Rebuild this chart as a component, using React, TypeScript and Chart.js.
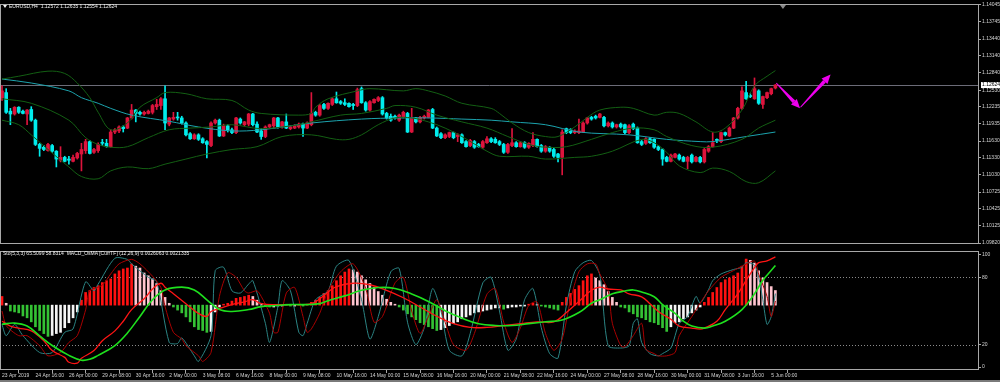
import React, { useEffect, useRef } from 'react';
import { Chart, registerables } from 'chart.js';

Chart.register(...registerables);

// ---------------- EURUSD H4 candles (bar index 0 = 23 Apr 2019 08:00) ----------------
const openP = [
  1.1240, 1.1249, 1.1216, 1.1211, 1.1223, 1.1216, 1.1211, 1.1219, 1.1200, 1.1157,
  1.1152, 1.1146, 1.1155, 1.1145, 1.1129, 1.1134, 1.1131, 1.1127, 1.1133, 1.1140,
  1.1146, 1.1162, 1.1143, 1.1146, 1.1160, 1.1159, 1.1153, 1.1179, 1.1181, 1.1188,
  1.1186, 1.1204, 1.1218, 1.1214, 1.1211, 1.1212, 1.1214, 1.1224, 1.1226, 1.1238,
  1.1193, 1.1202, 1.1205, 1.1204, 1.1195, 1.1176, 1.1167, 1.1174, 1.1167, 1.1162,
  1.1155, 1.1195, 1.1200, 1.1172, 1.1190, 1.1183, 1.1178, 1.1202, 1.1192, 1.1193,
  1.1211, 1.1193, 1.1181, 1.1171, 1.1188, 1.1190, 1.1204, 1.1188, 1.1197, 1.1185,
  1.1186, 1.1188, 1.1193, 1.1186, 1.1192, 1.1214, 1.1209, 1.1228, 1.1221, 1.1228,
  1.1238, 1.1233, 1.1231, 1.1230, 1.1228, 1.1226, 1.1256, 1.1231, 1.1218, 1.1231,
  1.1235, 1.1240, 1.1212, 1.1207, 1.1207, 1.1200, 1.1205, 1.1212, 1.1179, 1.1204,
  1.1197, 1.1204, 1.1205, 1.1219, 1.1186, 1.1176, 1.1169, 1.1171, 1.1178, 1.1171,
  1.1174, 1.1162, 1.1155, 1.1162, 1.1157, 1.1152, 1.1160, 1.1167, 1.1166, 1.1162,
  1.1157, 1.1143, 1.1155, 1.1160, 1.1153, 1.1160, 1.1152, 1.1155, 1.1166, 1.1155,
  1.1145, 1.1152, 1.1148, 1.1140, 1.1134, 1.1185, 1.1183, 1.1178, 1.1178, 1.1179,
  1.1195, 1.1205, 1.1207, 1.1205, 1.1205, 1.1190, 1.1195, 1.1188, 1.1193, 1.1192,
  1.1178, 1.1193, 1.1186, 1.1162, 1.1159, 1.1167, 1.1166, 1.1153, 1.1148, 1.1134,
  1.1127, 1.1134, 1.1138, 1.1134, 1.1127, 1.1138, 1.1127, 1.1134, 1.1126, 1.1145,
  1.1153, 1.1166, 1.1162, 1.1178, 1.1172, 1.1186, 1.1204, 1.1221, 1.1249, 1.1243,
  1.1238, 1.1252, 1.1228, 1.1240, 1.1247, 1.12572,
];
const highP = [
  1.1261, 1.1256, 1.1221, 1.1224, 1.1224, 1.1218, 1.1219, 1.1224, 1.1202, 1.1159,
  1.1155, 1.1159, 1.1157, 1.1146, 1.1153, 1.1136, 1.1136, 1.1138, 1.1143, 1.1159,
  1.1166, 1.1164, 1.1150, 1.1160, 1.1166, 1.1166, 1.1183, 1.1185, 1.1190, 1.1190,
  1.1205, 1.1228, 1.1219, 1.1216, 1.1216, 1.1218, 1.1228, 1.1237, 1.1240, 1.1261,
  1.1205, 1.1214, 1.1214, 1.1207, 1.1197, 1.1178, 1.1176, 1.1176, 1.1169, 1.1164,
  1.1197, 1.1202, 1.1202, 1.1193, 1.1192, 1.1186, 1.1205, 1.1204, 1.1198, 1.1212,
  1.1212, 1.1197, 1.1185, 1.1190, 1.1193, 1.1205, 1.1205, 1.1198, 1.1211, 1.1190,
  1.1192, 1.1195, 1.1195, 1.1197, 1.1249, 1.1216, 1.1228, 1.1230, 1.1231, 1.1240,
  1.1250, 1.1235, 1.1238, 1.1231, 1.1230, 1.1257, 1.1259, 1.1233, 1.1235, 1.1238,
  1.1242, 1.1242, 1.1214, 1.1211, 1.1209, 1.1211, 1.1216, 1.1214, 1.1221, 1.1205,
  1.1207, 1.1209, 1.1219, 1.1221, 1.1188, 1.1178, 1.1176, 1.1179, 1.1179, 1.1176,
  1.1176, 1.1164, 1.1166, 1.1164, 1.1159, 1.1164, 1.1171, 1.1169, 1.1169, 1.1164,
  1.1159, 1.1159, 1.1185, 1.1162, 1.1162, 1.1162, 1.1160, 1.1178, 1.1167, 1.1157,
  1.1155, 1.1153, 1.1150, 1.1141, 1.1183, 1.1186, 1.1185, 1.1183, 1.1202, 1.1197,
  1.1205, 1.1207, 1.1209, 1.1212, 1.1207, 1.1197, 1.1197, 1.1193, 1.1195, 1.1193,
  1.1192, 1.1195, 1.1188, 1.1164, 1.1169, 1.1169, 1.1167, 1.1155, 1.1150, 1.1136,
  1.1140, 1.1141, 1.1140, 1.1136, 1.1136, 1.1140, 1.1136, 1.1136, 1.1150, 1.1155,
  1.1178, 1.1167, 1.1179, 1.1179, 1.1188, 1.1205, 1.1223, 1.1259, 1.1269, 1.1247,
  1.1275, 1.1254, 1.1243, 1.1250, 1.1257, 1.12635,
];
const lowP = [
  1.1235, 1.1212, 1.1192, 1.1209, 1.1212, 1.1211, 1.1192, 1.1198, 1.1155, 1.1136,
  1.1146, 1.1145, 1.1143, 1.1117, 1.1126, 1.1126, 1.1122, 1.1126, 1.1131, 1.1110,
  1.1141, 1.1140, 1.1141, 1.1143, 1.1155, 1.1152, 1.1152, 1.1176, 1.1178, 1.1179,
  1.1185, 1.1202, 1.1197, 1.1209, 1.1209, 1.1211, 1.1211, 1.1219, 1.1219, 1.1183,
  1.1190, 1.1200, 1.1200, 1.1193, 1.1172, 1.1166, 1.1166, 1.1164, 1.1159, 1.1133,
  1.1153, 1.1193, 1.1171, 1.1171, 1.1179, 1.1176, 1.1176, 1.1193, 1.1190, 1.1190,
  1.1190, 1.1178, 1.1166, 1.1169, 1.1186, 1.1186, 1.1186, 1.1186, 1.1185, 1.1183,
  1.1185, 1.1186, 1.1171, 1.1185, 1.1190, 1.1207, 1.1207, 1.1219, 1.1219, 1.1226,
  1.1230, 1.1228, 1.1226, 1.1223, 1.1219, 1.1224, 1.1230, 1.1216, 1.1216, 1.1230,
  1.1233, 1.1209, 1.1202, 1.1198, 1.1202, 1.1198, 1.1204, 1.1178, 1.1178, 1.1195,
  1.1195, 1.1202, 1.1204, 1.1185, 1.1171, 1.1167, 1.1167, 1.1169, 1.1167, 1.1162,
  1.1159, 1.1152, 1.1153, 1.1150, 1.1152, 1.1150, 1.1159, 1.1160, 1.1159, 1.1155,
  1.1141, 1.1141, 1.1153, 1.1152, 1.1152, 1.1150, 1.1150, 1.1153, 1.1152, 1.1143,
  1.1143, 1.1143, 1.1134, 1.1126, 1.1103, 1.1176, 1.1176, 1.1176, 1.1176, 1.1178,
  1.1193, 1.1200, 1.1202, 1.1204, 1.1188, 1.1188, 1.1186, 1.1186, 1.1186, 1.1176,
  1.1176, 1.1183, 1.1159, 1.1155, 1.1157, 1.1159, 1.1150, 1.1146, 1.1120, 1.1126,
  1.1126, 1.1133, 1.1129, 1.1126, 1.1114, 1.1124, 1.1126, 1.1124, 1.1124, 1.1143,
  1.1152, 1.1160, 1.1160, 1.1172, 1.1171, 1.1185, 1.1202, 1.1219, 1.1237, 1.1240,
  1.1237, 1.1228, 1.1221, 1.1238, 1.1245, 1.12554,
];
const closeP = [
  1.1252, 1.1214, 1.1211, 1.1223, 1.1214, 1.1212, 1.1218, 1.1200, 1.1157, 1.1150,
  1.1148, 1.1157, 1.1145, 1.1131, 1.1134, 1.1127, 1.1129, 1.1134, 1.1141, 1.1148,
  1.1162, 1.1141, 1.1148, 1.1157, 1.1159, 1.1153, 1.1179, 1.1183, 1.1188, 1.1185,
  1.1204, 1.1218, 1.1212, 1.1211, 1.1214, 1.1216, 1.1226, 1.1228, 1.1238, 1.1195,
  1.1204, 1.1205, 1.1204, 1.1195, 1.1174, 1.1167, 1.1174, 1.1166, 1.1160, 1.1157,
  1.1195, 1.1200, 1.1172, 1.1190, 1.1183, 1.1178, 1.1204, 1.1195, 1.1197, 1.1211,
  1.1192, 1.1179, 1.1171, 1.1188, 1.1192, 1.1204, 1.1188, 1.1197, 1.1186, 1.1188,
  1.1190, 1.1193, 1.1186, 1.1195, 1.1212, 1.1209, 1.1226, 1.1221, 1.1230, 1.1238,
  1.1231, 1.1230, 1.1228, 1.1224, 1.1226, 1.1254, 1.1231, 1.1218, 1.1233, 1.1237,
  1.1240, 1.1211, 1.1204, 1.1200, 1.1204, 1.1209, 1.1214, 1.1179, 1.1204, 1.1197,
  1.1205, 1.1207, 1.1218, 1.1186, 1.1172, 1.1169, 1.1174, 1.1178, 1.1169, 1.1174,
  1.1160, 1.1153, 1.1164, 1.1152, 1.1153, 1.1162, 1.1167, 1.1162, 1.1160, 1.1157,
  1.1143, 1.1157, 1.1160, 1.1153, 1.1160, 1.1152, 1.1159, 1.1166, 1.1153, 1.1145,
  1.1153, 1.1145, 1.1136, 1.1134, 1.1179, 1.1178, 1.1178, 1.1181, 1.1181, 1.1195,
  1.1204, 1.1202, 1.1204, 1.1211, 1.1190, 1.1195, 1.1188, 1.1192, 1.1188, 1.1178,
  1.1190, 1.1185, 1.1160, 1.1157, 1.1167, 1.1160, 1.1152, 1.1148, 1.1131, 1.1127,
  1.1138, 1.1140, 1.1131, 1.1127, 1.1134, 1.1126, 1.1134, 1.1126, 1.1148, 1.1153,
  1.1160, 1.1164, 1.1178, 1.1174, 1.1186, 1.1204, 1.1221, 1.1252, 1.1238, 1.1242,
  1.1256, 1.1230, 1.1242, 1.1249, 1.1256, 1.12624,
];

// ---------------- overlays: [bar index, price] ----------------
const maLine = [
  [0, 1.1273], [7, 1.1266], [16, 1.1252], [19, 1.1240], [23, 1.1230], [26, 1.1221], [31, 1.1209],
  [40, 1.1198], [47, 1.1188], [55, 1.1181], [62, 1.1183], [74, 1.1195], [86, 1.1202], [95, 1.1204],
  [102, 1.1204], [110, 1.1202], [117, 1.1200], [122, 1.1197], [130, 1.1192], [138, 1.1179],
  [150, 1.1174], [159, 1.1166], [167, 1.1162], [170, 1.1162], [178, 1.1171], [185, 1.1179],
];
const bbUpper = [
  [0, 1.1273], [4, 1.1278], [11, 1.1287], [15, 1.1283], [18, 1.1266], [21, 1.1240], [23, 1.1214],
  [26, 1.1183], [30, 1.1195], [33, 1.1223], [37, 1.1240], [39, 1.1249], [44, 1.1247], [49, 1.1238],
  [55, 1.1235], [59, 1.1218], [62, 1.1212], [71, 1.1209], [74, 1.1212], [75, 1.1223], [78, 1.1238],
  [85, 1.1252], [88, 1.1256], [96, 1.1252], [99, 1.1256], [102, 1.1252], [106, 1.1243], [110, 1.1230],
  [117, 1.1221], [119, 1.1212], [122, 1.1195], [126, 1.1178], [130, 1.1171], [133, 1.1171],
  [137, 1.1188], [140, 1.1205], [143, 1.1218], [148, 1.1223], [151, 1.1221], [156, 1.1209],
  [159, 1.1214], [162, 1.1212], [166, 1.1197], [170, 1.1179], [173, 1.1186], [177, 1.1218],
  [180, 1.1261], [183, 1.1278], [185, 1.1288],
];
const bbMiddle = [
  [0, 1.1238], [7, 1.1230], [16, 1.1200], [20, 1.1169], [23, 1.1157], [26, 1.1152], [30, 1.1153],
  [35, 1.1169], [40, 1.1183], [45, 1.1186], [50, 1.1188], [55, 1.1192], [62, 1.1185], [71, 1.1192],
  [74, 1.1197], [81, 1.1209], [86, 1.1212], [92, 1.1221], [94, 1.1226], [99, 1.1223], [104, 1.1209],
  [110, 1.1197], [116, 1.1186], [121, 1.1171], [126, 1.1157], [130, 1.1152], [135, 1.1153],
  [141, 1.1166], [146, 1.1178], [151, 1.1186], [156, 1.1183], [159, 1.1171], [165, 1.1155],
  [170, 1.1152], [177, 1.1166], [181, 1.1186], [185, 1.1200],
];
const bbLower = [
  [0, 1.1200], [4, 1.1192], [7, 1.1174], [11, 1.1148], [16, 1.1117], [19, 1.1100], [23, 1.1096],
  [26, 1.1110], [30, 1.1117], [35, 1.1114], [39, 1.1122], [44, 1.1131], [49, 1.1140], [55, 1.1148],
  [61, 1.1153], [67, 1.1171], [74, 1.1174], [80, 1.1166], [83, 1.1166], [86, 1.1174], [90, 1.1192],
  [94, 1.1204], [98, 1.1204], [102, 1.1197], [106, 1.1186], [110, 1.1171], [116, 1.1145],
  [119, 1.1136], [126, 1.1136], [130, 1.1131], [137, 1.1134], [141, 1.1136], [146, 1.1145],
  [153, 1.1166], [156, 1.1160], [159, 1.1143], [162, 1.1119], [167, 1.1107], [170, 1.1115],
  [174, 1.1109], [178, 1.1091], [181, 1.1089], [185, 1.1110],
];

const priceTicks = [1.14045, 1.13745, 1.1344, 1.1314, 1.1284, 1.1253, 1.12235, 1.11935, 1.1163, 1.1133, 1.1103, 1.10725, 1.10425, 1.10125, 1.0982];
const lastPrice = 1.12624;

// hand-drawn arrows, anchored in [bar index, price]
const arrowLegs = [
  [[185.2, 1.1266], [190.9, 1.1221]],
  [[191.0, 1.1223], [198.2, 1.1281]],
];

// ---------------- time axis ----------------
const timeLabels = [
  '23 Apr 2019', '24 Apr 16:00', '26 Apr 00:00', '29 Apr 08:00', '30 Apr 16:00', '2 May 00:00',
  '3 May 08:00', '6 May 16:00', '8 May 00:00', '9 May 08:00', '10 May 16:00', '14 May 00:00',
  '15 May 08:00', '16 May 16:00', '20 May 00:00', '21 May 08:00', '22 May 16:00', '24 May 00:00',
  '27 May 08:00', '28 May 16:00', '30 May 00:00', '31 May 08:00', '3 Jun 16:00', '5 Jun 00:00',
];
const labelStep = 8;

// ---------------- lower panel: Stochastic(5,3,3) + MACD OsMA(12,26,9) ----------------
const stochMain = [
  [0, 38], [1, 28], [3, 38], [5, 28], [9, 13], [12, 13], [15, 31], [17, 34], [20, 76], [22, 68],
  [23, 74], [27, 97], [30, 96], [31, 92], [35, 80], [37, 76], [40, 22], [42, 21], [43, 26], [46, 10],
  [47, 5], [50, 28], [51, 86], [53, 89], [55, 68], [57, 66], [59, 74], [60, 77], [63, 39], [64, 22],
  [66, 54], [67, 77], [69, 68], [71, 31], [72, 28], [73, 39], [75, 60], [78, 68],
  [80, 90], [83, 95], [86, 60], [88, 25], [90, 45], [93, 85], [95, 88], [97, 40], [99, 20], [101, 35],
  [103, 70], [105, 50], [107, 15], [110, 10], [112, 30], [115, 75], [117, 80], [119, 50], [121, 15],
  [123, 25], [125, 60], [127, 70], [129, 35], [131, 12], [133, 8], [135, 55], [137, 85], [139, 93],
  [141, 95], [143, 82], [145, 19], [148, 17], [150, 19], [151, 39], [152, 43], [153, 22], [155, 12],
  [157, 10], [158, 12], [160, 17], [162, 39], [164, 45], [166, 63], [167, 57], [169, 69], [170, 77],
  [172, 83], [175, 87], [177, 89], [178, 93], [180, 91], [181, 80], [182, 60], [183, 38], [184, 45],
  [185, 65.5099],
];
const stochSignal = [
  [0, 50], [1, 37], [4, 28], [6, 28], [9, 19], [11, 10], [14, 13], [16, 22], [18, 28], [20, 51],
  [21, 68], [24, 73], [26, 83], [28, 92], [31, 96], [33, 92], [36, 81], [38, 71], [39, 54], [41, 31],
  [43, 25], [44, 19], [47, 10], [48, 5], [50, 13], [52, 63], [54, 84], [56, 80], [58, 68], [59, 66],
  [61, 68], [62, 63], [64, 48], [65, 31], [66, 31], [68, 66], [70, 71], [72, 45], [73, 31], [74, 34],
  [76, 48], [78, 68], [81, 85], [84, 92], [87, 70], [89, 40], [91, 45], [94, 75], [96, 80], [98, 50],
  [100, 30], [102, 45], [104, 60], [106, 40], [108, 20], [111, 15], [113, 30], [116, 65], [118, 70],
  [120, 40], [122, 22], [124, 35], [126, 55], [128, 58], [130, 30], [132, 15], [134, 25], [136, 60],
  [138, 85], [140, 92], [142, 92], [143, 83], [145, 68], [146, 39], [148, 19], [149, 18], [151, 28],
  [153, 39], [154, 16], [156, 12], [157, 10], [159, 10], [161, 13], [162, 28], [165, 45], [167, 57],
  [169, 68], [172, 80], [175, 86], [177, 90], [180, 94.5], [181, 83], [183, 63], [184, 45], [185, 58.8314],
];
const macdMain = [
  [0, -0.00087], [2, -0.00113], [4, -0.00124], [7, -0.00139], [10, -0.00192], [12, -0.00245],
  [15, -0.00282], [16, -0.00308], [18, -0.00313], [19, -0.00287], [22, -0.00245], [24, -0.00192],
  [27, -0.00139], [29, -0.00087], [31, -0.00024], [34, 0.00034], [36, 0.00087], [38, 0.00118],
  [39, 0.00097], [41, 0.00061], [44, 0.00008], [47, -0.00045], [49, -0.00061], [50, -0.00034],
  [52, -0.00018], [55, 0.00003], [58, 0.00018], [60, 0.00029], [62, 0.00008], [66, 0.00003],
  [71, 0.00003], [74, 0.00008], [76, 0.00034], [78, 0.00071], [80, 0.001], [84, 0.00118],
  [88, 0.0011], [92, 0.0008], [96, 0.0004], [100, -0.0001], [104, -0.0006], [108, -0.001],
  [112, -0.0012], [116, -0.0012], [120, -0.0011], [124, -0.001], [128, -0.0009], [132, -0.0009],
  [135, -0.0004], [138, 0.0002], [141, 0.0008], [143, 0.00097], [145, 0.00087], [148, 0.00082],
  [150, 0.00061], [153, 0.00045], [155, 0.00008], [157, -0.00034], [160, -0.00076], [162, -0.00113],
  [165, -0.00124], [167, -0.00129], [168, -0.00124], [171, -0.00087], [173, -0.00024], [176, 0.00061],
  [178, 0.00134], [180, 0.00203], [181, 0.00229], [183, 0.00239], [185, 0.0026063],
];
const macdSignal = [
  [0, -0.00103], [3, -0.00097], [6, -0.00113], [9, -0.00166], [12, -0.00218], [16, -0.00271],
  [19, -0.00297], [21, -0.00292], [23, -0.00271], [27, -0.00218], [30, -0.0015], [33, -0.00061],
  [36, 0.00029], [39, 0.00082], [43, 0.00097], [46, 0.00082], [49, 0.00029], [52, -0.00024],
  [55, -0.00034], [59, -0.00024], [62, -0.00008], [65, -0.00003], [69, 0.00003], [73, 0.00003],
  [76, 0.00008], [78, 0.00024], [82, 0.0005], [86, 0.0008], [90, 0.00095], [94, 0.0009],
  [98, 0.0006], [102, 0.0002], [106, -0.0003], [110, -0.0007], [114, -0.001], [118, -0.0011],
  [122, -0.0011], [126, -0.001], [130, -0.0009], [134, -0.0008], [138, -0.0004], [141, 0.0001],
  [143, 0.00029], [146, 0.00061], [149, 0.00076], [151, 0.00082], [153, 0.00071], [156, 0.00045],
  [158, 0.00003], [161, -0.00045], [163, -0.00087], [165, -0.00113], [168, -0.00124], [170, -0.00113],
  [173, -0.00087], [177, -0.00024], [180, 0.00061], [182, 0.00134], [185, 0.0021335],
];
const osma = [
  0.00028, 0.00006, -0.00019, -0.00022, -0.00025, -0.00035, -0.00041, -0.00054, -0.0007, -0.00082,
  -0.00092, -0.00101, -0.00098, -0.00092, -0.00088, -0.00073, -0.00057, -0.00041, -0.00022, 0.00016,
  0.00041, 0.00047, 0.00057, 0.00063, 0.00073, 0.00079, 0.00085, 0.00101, 0.00111, 0.00117,
  0.0012, 0.00133, 0.00126, 0.0012, 0.00104, 0.00095, 0.00085, 0.0007, 0.00047, 0.00025,
  0.00006, -0.00006, -0.00016, -0.00025, -0.00038, -0.00054, -0.0007, -0.00079, -0.00082, -0.00088,
  -0.00085, -0.00022, -0.00006, 0.00003, 0.00006, 0.00013, 0.00022, 0.00025, 0.00028, 0.00032,
  0.00028, 0.00016, 0.00006, -0.00003, -0.00006, -0.00006, -0.00003, -0.00003, 0.00003, -0.00003,
  -0.00003, 0.00003, -0.00003, 0.00003, 0.00009, 0.00016, 0.00025, 0.00038, 0.00047, 0.00063,
  0.00079, 0.00095, 0.00107, 0.00117, 0.00114, 0.00107, 0.00095, 0.00082, 0.0007, 0.00057,
  0.00044, 0.00032, 0.00019, 0.00009, 0.00003, -0.00006, -0.00016, -0.00028, -0.00038, -0.00047,
  -0.00057, -0.00063, -0.0007, -0.00076, -0.00082, -0.00079, -0.00073, -0.00066, -0.0006, -0.00054,
  -0.00044, -0.00038, -0.00032, -0.00025, -0.00022, -0.00019, -0.00016, -0.00013, -0.00009, -0.00009,
  -0.00013, -0.00009, -0.00006, -0.00006, -0.00003, -0.00003, 0.00003, 0.00006, 0.00003, -0.00003,
  -0.00006, -0.00009, -0.00013, -0.00016, 0.00009, 0.00025, 0.00038, 0.00051, 0.00063, 0.00079,
  0.00095, 0.00101, 0.00088, 0.00079, 0.00066, 0.00044, 0.00025, 0.00009, -0.00006, -0.00009,
  -0.00022, -0.00028, -0.00038, -0.00041, -0.00047, -0.00054, -0.00057, -0.00063, -0.00073, -0.00085,
  -0.0007, -0.00057, -0.00054, -0.00044, -0.00038, -0.00025, -0.00016, -0.00006, 0.00009, 0.00025,
  0.00041, 0.00057, 0.00073, 0.00082, 0.00088, 0.00095, 0.00104, 0.00126, 0.00149, 0.00145,
  0.00136, 0.00111, 0.00088, 0.00073, 0.0006, 0.0004728,
];
const stochLevels = [20, 80];
const stochTicks = [100, 80, 20, 0];

// ---------------- look ----------------
const X_MIN = -0.48;
const X_MAX = 233.7;
const AXIS_W = 21;
const FONT = { family: 'Liberation Sans', size: 5 };
const TEXT = '#d4d4d4';
const FRAME = '#a8a8a8';
const BULL = '#dc143c';
const BEAR = '#00ecec';

const pts = (arr) => arr.map(([x, y]) => ({ x, y }));

const framePlugin = {
  id: 'frame',
  afterDraw(chart) {
    const { ctx, chartArea: a } = chart;
    ctx.save();
    ctx.strokeStyle = FRAME;
    ctx.lineWidth = 1;
    ctx.strokeRect(a.left + 0.5, a.top + 0.5, a.right - a.left - 1, a.bottom - a.top - 1);
    ctx.restore();
  },
};

const priceLinePlugin = {
  id: 'priceLine',
  beforeDatasetsDraw(chart) {
    const { ctx, chartArea: a, scales } = chart;
    const y = Math.round(scales.y.getPixelForValue(lastPrice)) + 0.5;
    ctx.save();
    ctx.strokeStyle = '#6c6c78';
    ctx.lineWidth = 1;
    ctx.beginPath();
    ctx.moveTo(a.left, y);
    ctx.lineTo(a.right, y);
    ctx.stroke();
    // chart-shift marker
    const sx = scales.x.getPixelForValue(closeP.length + 0.8);
    ctx.fillStyle = '#8a8a8a';
    ctx.beginPath();
    ctx.moveTo(sx - 3, a.top + 1);
    ctx.lineTo(sx + 3, a.top + 1);
    ctx.lineTo(sx, a.top + 5);
    ctx.closePath();
    ctx.fill();
    ctx.restore();
  },
};

const arrowPlugin = {
  id: 'arrows',
  afterDatasetsDraw(chart) {
    const { ctx, scales } = chart;
    ctx.save();
    ctx.fillStyle = '#ee00ee';
    arrowLegs.forEach(([from, to]) => {
      const x1 = scales.x.getPixelForValue(from[0]);
      const y1 = scales.y.getPixelForValue(from[1]);
      const x2 = scales.x.getPixelForValue(to[0]);
      const y2 = scales.y.getPixelForValue(to[1]);
      const ang = Math.atan2(y2 - y1, x2 - x1);
      const nx = -Math.sin(ang);
      const ny = Math.cos(ang);
      const head = 9;
      const hw = 4;
      const bx = x2 - head * Math.cos(ang);
      const by = y2 - head * Math.sin(ang);
      // tapered shaft
      ctx.beginPath();
      ctx.moveTo(x1 + nx * 0.5, y1 + ny * 0.5);
      ctx.lineTo(bx + nx * 1.8, by + ny * 1.8);
      ctx.lineTo(bx - nx * 1.8, by - ny * 1.8);
      ctx.lineTo(x1 - nx * 0.5, y1 - ny * 0.5);
      ctx.closePath();
      ctx.fill();
      // head
      ctx.beginPath();
      ctx.moveTo(x2, y2);
      ctx.lineTo(bx + nx * hw, by + ny * hw);
      ctx.lineTo(bx - nx * hw, by - ny * hw);
      ctx.closePath();
      ctx.fill();
    });
    ctx.restore();
  },
};

const levelPlugin = {
  id: 'levels',
  beforeDatasetsDraw(chart) {
    const { ctx, chartArea: a, scales } = chart;
    ctx.save();
    ctx.strokeStyle = '#8a8a8a';
    ctx.lineWidth = 1;
    ctx.setLineDash([1, 2]);
    stochLevels.forEach((lv) => {
      const y = Math.round(scales.yStoch.getPixelForValue(lv)) + 0.5;
      ctx.beginPath();
      ctx.moveTo(a.left, y);
      ctx.lineTo(a.right, y);
      ctx.stroke();
    });
    ctx.restore();
  },
};

function lineDs(data, color, width, axis, tension, order) {
  return {
    type: 'line',
    data: pts(data),
    borderColor: color,
    borderWidth: width,
    pointRadius: 0,
    tension,
    fill: false,
    yAxisID: axis,
    order,
  };
}

function topConfig() {
  const bodyColors = closeP.map((c, i) => (c >= openP[i] ? BULL : BEAR));
  return {
    type: 'bar',
    data: {
      datasets: [
        lineDs(bbUpper, '#135f13', 1, 'y', 0.35, 0),
        lineDs(bbMiddle, '#135f13', 1, 'y', 0.35, 0),
        lineDs(bbLower, '#135f13', 1, 'y', 0.35, 0),
        lineDs(maLine, '#1ca3ad', 1, 'y', 0.35, 0),
        {
          type: 'bar',
          data: openP.map((o, i) => ({ x: i, y: [o, closeP[i]] })),
          backgroundColor: bodyColors,
          barThickness: 3,
          minBarLength: 1,
          grouped: false,
          borderWidth: 0,
          yAxisID: 'y',
          order: 1,
        },
        {
          type: 'bar',
          data: lowP.map((l, i) => ({ x: i, y: [l, highP[i]] })),
          backgroundColor: bodyColors,
          barThickness: 1,
          grouped: false,
          borderWidth: 0,
          yAxisID: 'y',
          order: 2,
        },
      ],
    },
    options: {
      responsive: false,
      animation: false,
      devicePixelRatio: 1,
      events: [],
      layout: { padding: { top: 1, bottom: 1, left: 0, right: 0 } },
      plugins: { legend: { display: false }, tooltip: { enabled: false } },
      scales: {
        x: { type: 'linear', min: X_MIN, max: X_MAX, display: false, offset: false },
        y: {
          type: 'linear',
          position: 'right',
          min: 1.098027,
          max: 1.140623,
          afterFit: (s) => { s.width = AXIS_W; },
          afterBuildTicks: (s) => { s.ticks = [...priceTicks, lastPrice].map((v) => ({ value: v })); },
          border: { display: false },
          grid: {
            drawOnChartArea: false,
            tickLength: 2,
            color: (c) => (c.tick && c.tick.value === lastPrice ? 'rgba(0,0,0,0)' : FRAME),
          },
          ticks: {
            autoSkip: false,
            padding: 1,
            font: FONT,
            color: (c) => (c.tick && c.tick.value === lastPrice ? '#000' : TEXT),
            showLabelBackdrop: (c) => !!(c.tick && c.tick.value === lastPrice),
            backdropColor: '#ffffff',
            backdropPadding: { top: 0, bottom: 0, left: 1, right: 2 },
            callback: (v) => Number(v).toFixed(5),
          },
        },
      },
    },
    plugins: [priceLinePlugin, arrowPlugin, framePlugin],
  };
}

function bottomConfig() {
  const histColors = osma.map((v, i) => {
    const prev = i > 0 ? osma[i - 1] : v;
    if (v >= 0) return v >= prev ? '#ff1010' : '#ffc4cf';
    return v < prev ? '#34c234' : '#f4f4f4';
  });
  return {
    type: 'bar',
    data: {
      datasets: [
        lineDs(macdSignal, '#1ee01e', 1.6, 'yMacd', 0.4, 0),
        lineDs(macdMain, '#ff1414', 1.3, 'yMacd', 0.4, 0),
        lineDs(stochSignal, '#a80000', 1, 'yStoch', 0.25, 1),
        lineDs(stochMain, '#2b8484', 1, 'yStoch', 0.25, 1),
        {
          type: 'bar',
          data: osma.map((v, i) => ({ x: i, y: v })),
          backgroundColor: histColors,
          barThickness: 2,
          grouped: false,
          borderWidth: 0,
          yAxisID: 'yHist',
          order: 3,
        },
      ],
    },
    options: {
      responsive: false,
      animation: false,
      devicePixelRatio: 1,
      events: [],
      layout: { padding: { top: 1, bottom: 0, left: 0, right: 0 } },
      plugins: { legend: { display: false }, tooltip: { enabled: false } },
      scales: {
        x: {
          type: 'linear',
          min: X_MIN,
          max: X_MAX,
          offset: false,
          position: 'bottom',
          afterFit: (s) => { s.height = 12; },
          afterBuildTicks: (s) => { s.ticks = timeLabels.map((_, k) => ({ value: k * labelStep })); },
          border: { display: false },
          grid: { drawOnChartArea: false, tickLength: 3, color: FRAME },
          ticks: {
            autoSkip: false,
            maxRotation: 0,
            minRotation: 0,
            align: 'start',
            padding: 0,
            font: FONT,
            color: TEXT,
            callback: (v, idx) => timeLabels[idx],
          },
        },
        yStoch: {
          type: 'linear',
          position: 'right',
          min: -2.61,
          max: 103.48,
          afterFit: (s) => { s.width = AXIS_W; },
          afterBuildTicks: (s) => { s.ticks = stochTicks.map((v) => ({ value: v })); },
          border: { display: false },
          grid: { drawOnChartArea: false, tickLength: 2, color: FRAME },
          ticks: { autoSkip: false, padding: 1, font: FONT, color: TEXT, callback: (v) => String(v) },
        },
        yMacd: { type: 'linear', display: false, min: -0.0035, max: 0.002921 },
        yHist: { type: 'linear', display: false, min: -0.002098, max: 0.001751 },
      },
    },
    plugins: [levelPlugin, framePlugin],
  };
}

const titleStyle = {
  position: 'absolute',
  color: '#f0f0f0',
  fontFamily: 'Liberation Sans, Arial, sans-serif',
  fontSize: 5,
  lineHeight: '6px',
  whiteSpace: 'pre',
};

export default function App() {
  const topRef = useRef(null);
  const botRef = useRef(null);
  useEffect(() => {
    const top = new Chart(topRef.current, topConfig());
    const bot = new Chart(botRef.current, bottomConfig());
    return () => {
      top.destroy();
      bot.destroy();
    };
  }, []);
  return (
    <div style={{ position: 'fixed', left: 0, top: 0, width: 1000, height: 382, background: '#000', overflow: 'hidden' }}>
      <canvas ref={topRef} width={1000} height={248} style={{ position: 'absolute', left: 0, top: 0, width: 1000, height: 248 }} />
      <canvas ref={botRef} width={1000} height={135} style={{ position: 'absolute', left: 0, top: 247, width: 1000, height: 135 }} />
      <div style={{ position: 'absolute', left: 3, top: 5, width: 0, height: 0, borderLeft: '2px solid transparent', borderRight: '2px solid transparent', borderTop: '3px solid #f0f0f0' }} />
      <div style={{ ...titleStyle, left: 9, top: 3 }}>{'EURUSD,H4  1.12572 1.12635 1.12554 1.12624'}</div>
      <div style={{ ...titleStyle, left: 3, top: 250 }}>{'Sto(5,3,3) 65.5099 58.8314  MACD_OsMA [CurrTF] (12,26,9) 0.0026063 0.0021335'}</div>
      <div style={{ position: 'absolute', left: 0, top: 380, width: 1000, height: 2, background: '#7a7a7a' }} />
    </div>
  );
}
